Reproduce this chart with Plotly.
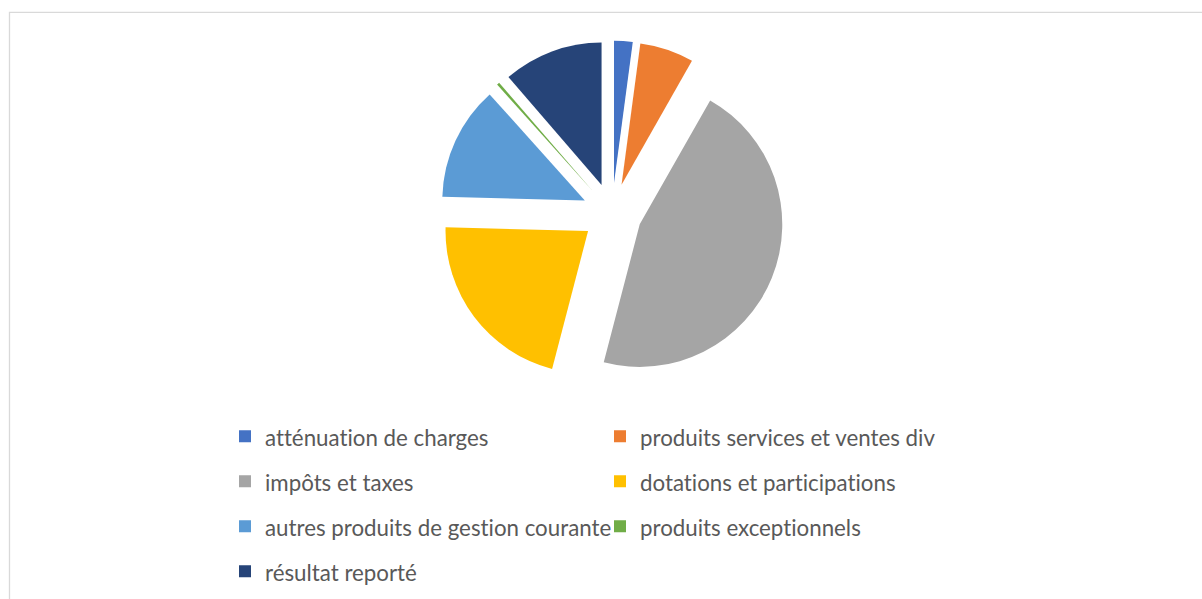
import plotly.graph_objects as go

# ---- data ----
labels = [
    "atténuation de charges",
    "produits services et ventes div",
    "impôts et taxes",
    "dotations et participations",
    "autres produits de gestion courante",
    "produits exceptionnels",
    "résultat reporté",
]
values = [2.1, 6.1, 45.7, 21.3, 12.9, 0.3, 11.3]
colors = ["#4472C4", "#ED7D31", "#A5A5A5", "#FFC000", "#5B9BD5", "#70AD47", "#264478"]

# ---- layout constants ----
W, H = 1202, 599
ML, MR = 0, 200
GW = W - ML - MR
cx, cy, R, pull = 612, 214.5, 143.5, 0.21
half = R * (1 + pull)

legend_labels = [
    f"<span style='font-size:22.3px;baseline-shift:3px;font-variant-ligatures:none'>{l}</span>"
    for l in labels
]

fig = go.Figure(
    go.Pie(
        labels=legend_labels,
        values=values,
        sort=False,
        direction="clockwise",
        rotation=0,
        pull=[pull] * len(values),
        marker=dict(colors=colors, line=dict(width=0)),
        textinfo="none",
        hoverinfo="skip",
        domain=dict(
            x=[(cx - half - ML) / GW, (cx + half - ML) / GW],
            y=[1 - (cy + half) / H, 1 - (cy - half) / H],
        ),
    )
)

fig.update_layout(
    width=W,
    height=H,
    margin=dict(l=ML, r=MR, t=0, b=0),
    paper_bgcolor="white",
    plot_bgcolor="white",
    showlegend=True,
    legend=dict(
        orientation="h",
        x=(225 - ML) / GW,
        xanchor="left",
        y=1 - 411.5 / H,
        yanchor="top",
        entrywidth=330,
        font=dict(family="Lato", size=32.3, color="#595959"),
        bgcolor="rgba(0,0,0,0)",
    ),
    shapes=[
        dict(
            type="rect",
            xref="paper",
            yref="paper",
            x0=(9.5 - ML) / GW,
            x1=1.5,
            y0=-0.2,
            y1=1 - 12.5 / H,
            line=dict(color="#D9D9D9", width=1.3),
            fillcolor="rgba(0,0,0,0)",
            layer="below",
        )
    ],
)

fig.write_html("out.html")
